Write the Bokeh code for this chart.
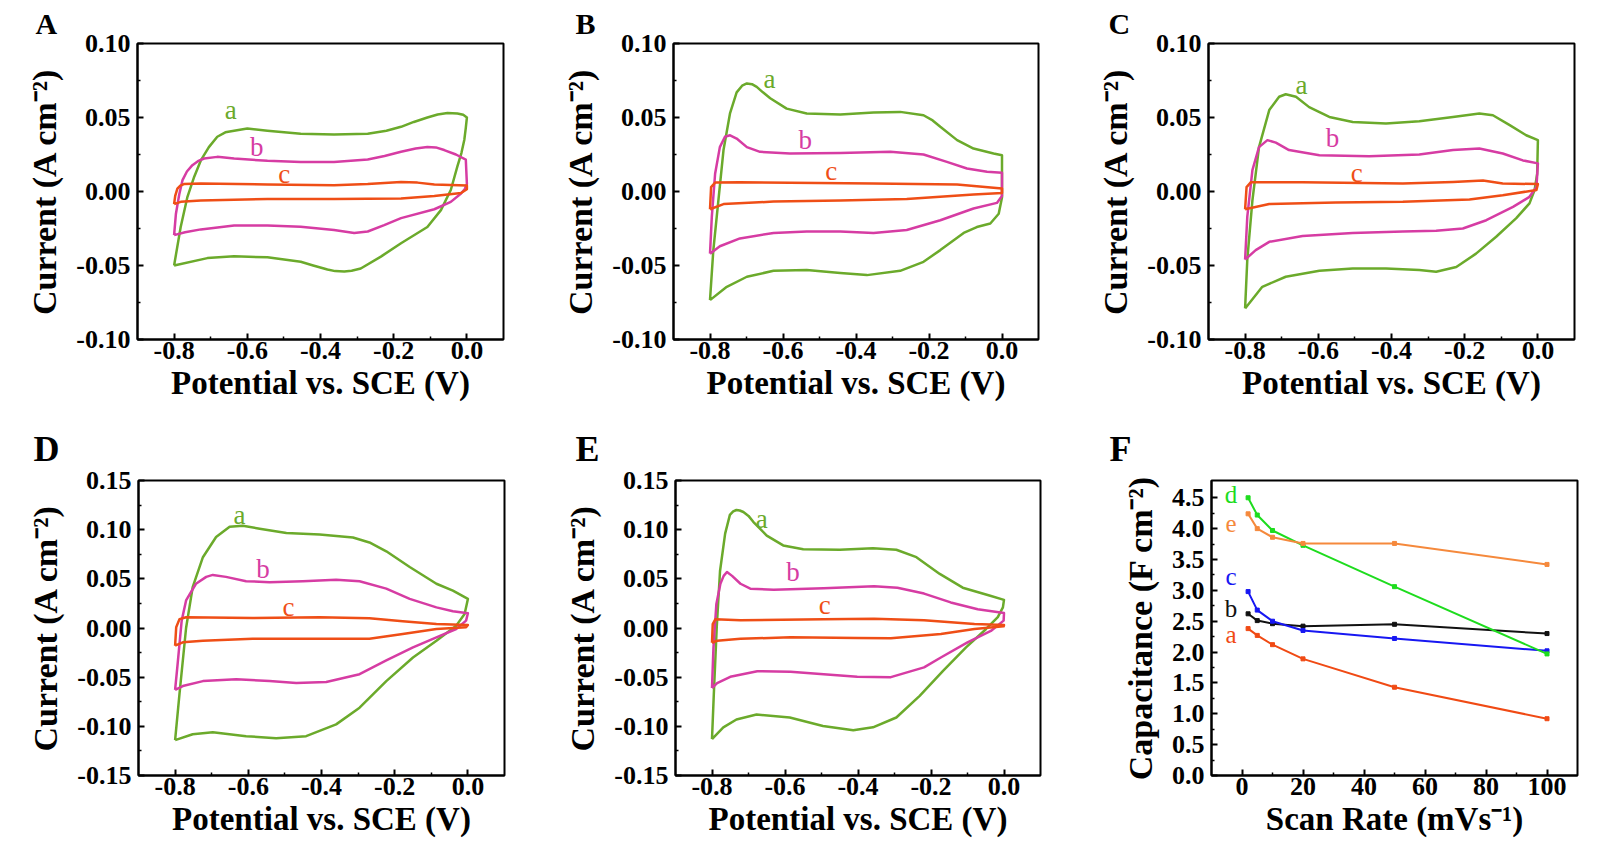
from bokeh.plotting import figure
from bokeh.layouts import column, row
from bokeh.models import FixedTicker, PrintfTickFormatter
from bokeh.embed import file_html
from bokeh.resources import INLINE
from bokeh.core.properties import value

FONT = "Liberation Serif"
COL_A, COL_B, COL_C = "#6BAA2B", "#D63CA3", "#EF4E16"
CURVE_NAMES = ["a", "b", "c"]

# ---------------- Panel A (E in V, I in A cm-2) ----------------
A_a_E = [-0.8, -0.782, -0.764, -0.745, -0.727, -0.705, -0.682, -0.660, -0.636, -0.6, -0.545, -0.454, -0.363, -0.271, -0.220, -0.180, -0.145, -0.108, -0.080, -0.053, -0.026, -0.010, 0.0,
         -0.003, -0.007, -0.015, -0.026, -0.044, -0.071, -0.108, -0.180, -0.235, -0.29, -0.315, -0.335, -0.360, -0.381, -0.420, -0.454, -0.545, -0.636, -0.709, -0.8]
A_a_I = [-0.050, -0.024, -0.004, 0.010, 0.021, 0.030, 0.037, 0.040, 0.041, 0.0425, 0.041, 0.039, 0.0385, 0.039, 0.041, 0.0437, 0.047, 0.050, 0.052, 0.053, 0.0527, 0.0518, 0.050,
         0.043, 0.035, 0.026, 0.017, 0.001, -0.0126, -0.024, -0.035, -0.044, -0.052, -0.0535, -0.054, -0.0538, -0.0527, -0.050, -0.0475, -0.0445, -0.0437, -0.045, -0.050]
A_b_E = [-0.8, -0.795, -0.786, -0.777, -0.765, -0.75, -0.735, -0.718, -0.682, -0.636, -0.545, -0.454, -0.363, -0.271, -0.225, -0.180, -0.140, -0.108, -0.085, -0.062, -0.030, -0.003, 0.0,
         -0.006, -0.016, -0.044, -0.089, -0.180, -0.226, -0.271, -0.308, -0.363, -0.454, -0.545, -0.636, -0.727, -0.770, -0.8]
A_b_I = [-0.0295, -0.015, -0.002, 0.0077, 0.0135, 0.0178, 0.0205, 0.0223, 0.0234, 0.0223, 0.0207, 0.020, 0.020, 0.0216, 0.024, 0.0268, 0.029, 0.0301, 0.0298, 0.028, 0.025, 0.0216, 0.005,
         0.0015, -0.0013, -0.007, -0.012, -0.018, -0.0227, -0.027, -0.028, -0.026, -0.0238, -0.023, -0.023, -0.0256, -0.0275, -0.0295]
A_c_E = [-0.8, -0.797, -0.791, -0.783, -0.773, -0.727, -0.545, -0.363, -0.271, -0.180, -0.135, -0.089, 0.0,
         0.0, -0.016, -0.089, -0.180, -0.363, -0.545, -0.727, -0.782, -0.8]
A_c_I = [-0.0085, -0.003, 0.002, 0.004, 0.005, 0.0054, 0.0047, 0.0043, 0.005, 0.0065, 0.006, 0.0047, 0.004,
         0.0015, -0.001, -0.003, -0.0047, -0.005, -0.005, -0.006, -0.007, -0.0085]

# ---------------- Panel B ----------------
B_a_E = [-0.8, -0.791, -0.777, -0.763, -0.745, -0.727, -0.712, -0.699, -0.685, -0.672, -0.655, -0.635, -0.59, -0.535, -0.443, -0.352, -0.279, -0.215, -0.190, -0.169, -0.123, -0.078, -0.023, 0.0,
         0.0, -0.009, -0.032, -0.069, -0.105, -0.169, -0.215, -0.279, -0.370, -0.443, -0.535, -0.626, -0.699, -0.754, -0.8]
B_a_I = [-0.0734, -0.04, -0.006, 0.028, 0.053, 0.067, 0.0715, 0.073, 0.0725, 0.0707, 0.067, 0.063, 0.056, 0.0527, 0.052, 0.0533, 0.0538, 0.0515, 0.048, 0.0437, 0.0347, 0.029, 0.0257, 0.0245,
         -0.004, -0.015, -0.0216, -0.024, -0.028, -0.0396, -0.0475, -0.0536, -0.0565, -0.055, -0.053, -0.0536, -0.0576, -0.0644, -0.0734]
B_b_E = [-0.8, -0.795, -0.786, -0.773, -0.759, -0.745, -0.727, -0.699, -0.663, -0.581, -0.443, -0.306, -0.215, -0.151, -0.096, -0.041, 0.0,
         0.0, -0.014, -0.078, -0.169, -0.261, -0.352, -0.443, -0.535, -0.626, -0.718, -0.773, -0.8]
B_b_I = [-0.042, -0.017, 0.012, 0.030, 0.037, 0.038, 0.0358, 0.030, 0.0268, 0.0257, 0.026, 0.0268, 0.025, 0.020, 0.0155, 0.0133, 0.0126,
         -0.003, -0.0077, -0.0115, -0.0194, -0.026, -0.028, -0.027, -0.027, -0.028, -0.0317, -0.037, -0.042]
B_c_E = [-0.8, -0.797, -0.786, -0.718, -0.352, -0.123, 0.0,
         0.0, -0.078, -0.261, -0.443, -0.626, -0.763, -0.8]
B_c_I = [-0.012, 0.003, 0.006, 0.0063, 0.0054, 0.0047, 0.002,
         -0.001, -0.002, -0.005, -0.006, -0.0068, -0.0085, -0.012]

# ---------------- Panel C ----------------
C_a_E = [-0.8, -0.794, -0.78, -0.762, -0.734, -0.707, -0.689, -0.661, -0.625, -0.570, -0.506, -0.415, -0.324, -0.232, -0.160, -0.123, -0.077, -0.032, 0.0,
         -0.002, -0.009, -0.023, -0.059, -0.114, -0.169, -0.223, -0.278, -0.324, -0.415, -0.506, -0.597, -0.689, -0.753, -0.8]
C_a_I = [-0.079, -0.046, -0.006, 0.030, 0.055, 0.064, 0.0657, 0.064, 0.057, 0.0504, 0.047, 0.046, 0.0475, 0.0504, 0.0527, 0.0515, 0.0448, 0.038, 0.0347,
         0.012, 0.001, -0.008, -0.018, -0.0306, -0.042, -0.051, -0.0542, -0.053, -0.052, -0.052, -0.0536, -0.0576, -0.0644, -0.079]
C_b_E = [-0.8, -0.794, -0.78, -0.762, -0.739, -0.716, -0.680, -0.597, -0.461, -0.324, -0.232, -0.160, -0.096, -0.041, 0.0,
         -0.004, -0.023, -0.068, -0.141, -0.205, -0.278, -0.369, -0.506, -0.643, -0.734, -0.771, -0.8]
C_b_I = [-0.046, -0.017, 0.0144, 0.030, 0.0347, 0.033, 0.028, 0.0245, 0.0239, 0.025, 0.028, 0.029, 0.0257, 0.021, 0.019,
         0.003, -0.0036, -0.0104, -0.0194, -0.025, -0.0266, -0.027, -0.028, -0.030, -0.034, -0.0396, -0.046]
C_c_E = [-0.8, -0.796, -0.784, -0.643, -0.369, -0.232, -0.150, -0.096, 0.0,
         -0.004, -0.096, -0.187, -0.369, -0.552, -0.734, -0.8]
C_c_I = [-0.012, 0.003, 0.0063, 0.0063, 0.0054, 0.0065, 0.0074, 0.0054, 0.005,
         0.001, -0.0025, -0.0054, -0.007, -0.0074, -0.0085, -0.012]

# ---------------- Panel D ----------------
D_a_E = [-0.8, -0.788, -0.77, -0.752, -0.724, -0.688, -0.651, -0.615, -0.569, -0.496, -0.405, -0.314, -0.269, -0.223, -0.159, -0.086, -0.041, 0.0,
         -0.009, -0.032, -0.086, -0.15, -0.223, -0.296, -0.36, -0.442, -0.524, -0.606, -0.697, -0.752, -0.8]
D_a_I = [-0.114, -0.067, 0.0, 0.0415, 0.072, 0.0925, 0.103, 0.104, 0.101, 0.0966, 0.095, 0.092, 0.087, 0.078, 0.062, 0.045, 0.038, 0.0296,
         0.0143, 0.0024, -0.013, -0.030, -0.054, -0.081, -0.098, -0.11, -0.112, -0.11, -0.106, -0.108, -0.114]
D_b_E = [-0.8, -0.794, -0.782, -0.77, -0.743, -0.715, -0.697, -0.661, -0.606, -0.542, -0.451, -0.360, -0.296, -0.223, -0.159, -0.086, -0.041, 0.0,
         -0.005, -0.032, -0.086, -0.15, -0.223, -0.296, -0.387, -0.469, -0.542, -0.633, -0.724, -0.779, -0.8]
D_b_I = [-0.063, -0.04, 0.0075, 0.028, 0.045, 0.052, 0.054, 0.052, 0.0476, 0.0466, 0.0476, 0.049, 0.0476, 0.040, 0.0296, 0.021, 0.017, 0.015,
         0.0075, -0.001, -0.0095, -0.0197, -0.033, -0.047, -0.055, -0.056, -0.054, -0.052, -0.054, -0.059, -0.063]
D_c_E = [-0.8, -0.797, -0.788, -0.77, -0.588, -0.405, -0.269, -0.178, -0.086, 0.0,
         -0.005, -0.086, -0.178, -0.269, -0.405, -0.588, -0.724, -0.779, -0.8]
D_c_I = [-0.018, 0.0007, 0.009, 0.011, 0.0102, 0.011, 0.0099, 0.0068, 0.004, 0.003,
         0.0007, -0.001, -0.006, -0.011, -0.011, -0.011, -0.013, -0.0146, -0.018]

# ---------------- Panel E ----------------
E_a_E = [-0.8, -0.795, -0.787, -0.778, -0.764, -0.751, -0.742, -0.733, -0.724, -0.714, -0.700, -0.687, -0.650, -0.605, -0.550, -0.45, -0.359, -0.295, -0.240, -0.176, -0.113, -0.04, 0.0,
         -0.003, -0.017, -0.049, -0.104, -0.167, -0.231, -0.295, -0.359, -0.413, -0.496, -0.587, -0.678, -0.733, -0.769, -0.8]
E_a_I = [-0.113, -0.067, 0.0007, 0.058, 0.096, 0.115, 0.1185, 0.12, 0.1195, 0.118, 0.114, 0.108, 0.094, 0.084, 0.080, 0.0796, 0.081, 0.0796, 0.072, 0.055, 0.041, 0.033, 0.0286,
         0.021, 0.011, -0.001, -0.0197, -0.0435, -0.069, -0.091, -0.101, -0.104, -0.0996, -0.091, -0.088, -0.093, -0.101, -0.113]
E_b_E = [-0.8, -0.796, -0.788, -0.777, -0.768, -0.759, -0.745, -0.722, -0.695, -0.631, -0.494, -0.356, -0.292, -0.219, -0.146, -0.072, 0.0,
         -0.001, -0.036, -0.1, -0.173, -0.219, -0.310, -0.402, -0.494, -0.585, -0.676, -0.75, -0.786, -0.8]
E_b_I = [-0.061, -0.02, 0.0245, 0.045, 0.053, 0.057, 0.053, 0.045, 0.040, 0.039, 0.0405, 0.0425, 0.041, 0.035, 0.026, 0.019, 0.0153,
         0.0075, -0.003, -0.0146, -0.030, -0.040, -0.050, -0.0496, -0.047, -0.0445, -0.044, -0.0496, -0.056, -0.061]
E_c_E = [-0.8, -0.798, -0.791, -0.722, -0.494, -0.356, -0.219, -0.081, 0.0,
         -0.001, -0.081, -0.173, -0.310, -0.402, -0.585, -0.722, -0.786, -0.8]
E_c_I = [-0.015, 0.004, 0.0088, 0.008, 0.0088, 0.0095, 0.008, 0.004, 0.003,
         0.0017, -0.001, -0.006, -0.0105, -0.0102, -0.0095, -0.011, -0.013, -0.015]

# ---------------- Panel F ----------------
scan_rate = [2, 5, 10, 20, 50, 100]
F_a = [2.38, 2.27, 2.12, 1.89, 1.43, 0.92]
F_b = [2.62, 2.51, 2.46, 2.42, 2.45, 2.30]
F_c = [2.98, 2.68, 2.50, 2.35, 2.22, 2.02]
F_d = [4.50, 4.22, 3.97, 3.73, 3.06, 1.97]
F_e = [4.24, 4.00, 3.86, 3.76, 3.76, 3.42]

# tick values
cv_x_ticks = [-0.8, -0.6, -0.4, -0.2, 0.0]
cv_x_minor = [-0.7, -0.5, -0.3, -0.1]
y_ticks_small = [-0.10, -0.05, 0.0, 0.05, 0.10]
y_minor_small = [-0.075, -0.025, 0.025, 0.075]
y_ticks_big = [-0.15, -0.10, -0.05, 0.0, 0.05, 0.10, 0.15]
y_minor_big = [-0.125, -0.075, -0.025, 0.025, 0.075, 0.125]
f_x_ticks = [0, 20, 40, 60, 80, 100]
f_x_minor = [10, 30, 50, 70, 90]
f_y_ticks = [0.0, 0.5, 1.0, 1.5, 2.0, 2.5, 3.0, 3.5, 4.0, 4.5]
f_y_minor = [0.25, 0.75, 1.25, 1.75, 2.25, 2.75, 3.25, 3.75, 4.25]

# curve label annotation positions (data coords)
A_lab_E, A_lab_I = [-0.645, -0.574, -0.499], [0.055, 0.030, 0.012]
B_lab_E, B_lab_I = [-0.637, -0.539, -0.468], [0.076, 0.035, 0.0137]
C_lab_E, C_lab_I = [-0.646, -0.561, -0.495], [0.072, 0.036, 0.0126]
D_lab_E, D_lab_I = [-0.624, -0.56, -0.49], [0.115, 0.060, 0.021]
E_lab_E, E_lab_I = [-0.664, -0.578, -0.491], [0.111, 0.057, 0.023]
F_lab_x = [-3.6, -3.6, -3.6, -3.6, -3.6]
F_lab_y = [2.29, 2.70, 3.23, 4.56, 4.08]
F_names = ["a", "b", "c", "d", "e"]
F_cols = ["#F04A14", "#111111", "#1717F2", "#1EDC1E", "#F5893C"]


def style(p, xt, xm, yt, ym, xfmt, yfmt, xlabel, ylabel):
    p.grid.visible = False
    p.outline_line_color = "black"
    p.outline_line_width = 2
    p.outline_line_alpha = 1
    p.xaxis.ticker = FixedTicker(ticks=xt, minor_ticks=xm)
    p.yaxis.ticker = FixedTicker(ticks=yt, minor_ticks=ym)
    p.xaxis.formatter = PrintfTickFormatter(format=xfmt)
    p.yaxis.formatter = PrintfTickFormatter(format=yfmt)
    p.xaxis.axis_label = xlabel
    p.yaxis.axis_label = ylabel
    for ax in (p.xaxis[0], p.yaxis[0]):
        ax.axis_line_width = 2
        ax.axis_line_color = "black"
        ax.major_tick_line_width = 2
        ax.minor_tick_line_width = 1.5
        ax.major_tick_in = 6
        ax.major_tick_out = 0
        ax.minor_tick_in = 3
        ax.minor_tick_out = 0
        ax.major_label_text_font = FONT
        ax.major_label_text_font_style = "bold"
        ax.major_label_text_font_size = "26px"
        ax.major_label_text_color = "black"
        ax.axis_label_text_font = FONT
        ax.axis_label_text_font_style = "bold"
        ax.axis_label_text_color = "black"
    p.xaxis.axis_label_text_font_size = "33px"
    p.yaxis.axis_label_text_font_size = "34px"
    p.xaxis.major_label_standoff = 2
    p.yaxis.major_label_standoff = 7
    p.xaxis.axis_label_standoff = 3
    p.yaxis.axis_label_standoff = 10


def panel_letter(p, letter, dx_px, size, standoff):
    p.title.text = letter
    p.title.align = "left"
    p.title.vertical_align = "top"
    p.title.offset = -dx_px
    p.title.standoff = standoff
    p.title.text_font = FONT
    p.title.text_font_style = "bold"
    p.title.text_font_size = size
    p.title.text_color = "black"


def cv_panel(letter, curves, lab_E, lab_I, yr, yt, ym, bl, br, bt, bb, fw, fh, ldx, lsize, lstand):
    xr = (-0.9, 0.1)
    p = figure(x_range=xr, y_range=yr, frame_width=fw, frame_height=fh,
               min_border_left=bl, min_border_right=br, min_border_top=bt, min_border_bottom=bb,
               output_backend="svg", toolbar_location=None, title_location="above")
    cols = [COL_A, COL_B, COL_C]
    for (E, I), c in zip(curves, cols):
        p.line(E, I, line_color=c, line_width=2.5, line_join="round")
    p.text(x=lab_E, y=lab_I, text=CURVE_NAMES, text_color=cols, text_font=value(FONT),
           text_font_size="27px", text_align="center", text_baseline="middle")
    style(p, cv_x_ticks, cv_x_minor, yt, ym, "%.1f", "%.2f",
          "Potential vs. SCE (V)", "Current (A cm\u207b\u00b2)")
    panel_letter(p, letter, ldx, lsize, lstand)
    return p


pA = cv_panel("A", [(A_a_E, A_a_I), (A_b_E, A_b_I), (A_c_E, A_c_I)], A_lab_E, A_lab_I,
              (-0.10, 0.10), y_ticks_small, y_minor_small, 137, 33, 43, 75, 366, 296, 102, "30px", 4)
pB = cv_panel("B", [(B_a_E, B_a_I), (B_b_E, B_b_I), (B_c_E, B_c_I)], B_lab_E, B_lab_I,
              (-0.10, 0.10), y_ticks_small, y_minor_small, 137, 28, 43, 75, 365, 296, 98, "30px", 4)
pC = cv_panel("C", [(C_a_E, C_a_I), (C_b_E, C_b_I), (C_c_E, C_c_I)], C_lab_E, C_lab_I,
              (-0.10, 0.10), y_ticks_small, y_minor_small, 142, 28, 43, 75, 366, 296, 100, "30px", 4)
pD = cv_panel("D", [(D_a_E, D_a_I), (D_b_E, D_b_I), (D_c_E, D_c_I)], D_lab_E, D_lab_I,
              (-0.15, 0.15), y_ticks_big, y_minor_big, 138, 32, 66, 83, 366, 295, 105, "36px", 20)
pE = cv_panel("E", [(E_a_E, E_a_I), (E_b_E, E_b_I), (E_c_E, E_c_I)], E_lab_E, E_lab_I,
              (-0.15, 0.15), y_ticks_big, y_minor_big, 139, 26, 66, 83, 365, 295, 100, "36px", 20)

# Panel F
fxr, fyr = (-10, 110), (0.0, 4.78)
pF = figure(x_range=fxr, y_range=fyr, frame_width=366, frame_height=295,
            min_border_left=145, min_border_right=25, min_border_top=66, min_border_bottom=83,
            output_backend="svg", toolbar_location=None, title_location="above")
for ys, c in zip([F_a, F_b, F_c, F_d, F_e], F_cols):
    pF.line(scan_rate, ys, line_color=c, line_width=2)
    pF.scatter(scan_rate, ys, marker="square", size=4, color=c)
pF.text(x=F_lab_x, y=F_lab_y, text=F_names, text_color=F_cols, text_font=value(FONT),
        text_font_size="25px", text_align="center", text_baseline="middle")
style(pF, f_x_ticks, f_x_minor, f_y_ticks, f_y_minor, "%d", "%.1f",
      "Scan Rate (mVs\u207b\u00b9)", "Capacitance (F cm\u207b\u00b2)")
panel_letter(pF, "F", 102, "36px", 20)

layout = column(row(pA, pB, pC), row(pD, pE, pF))
open("out.html", "w").write(file_html(layout, INLINE))
